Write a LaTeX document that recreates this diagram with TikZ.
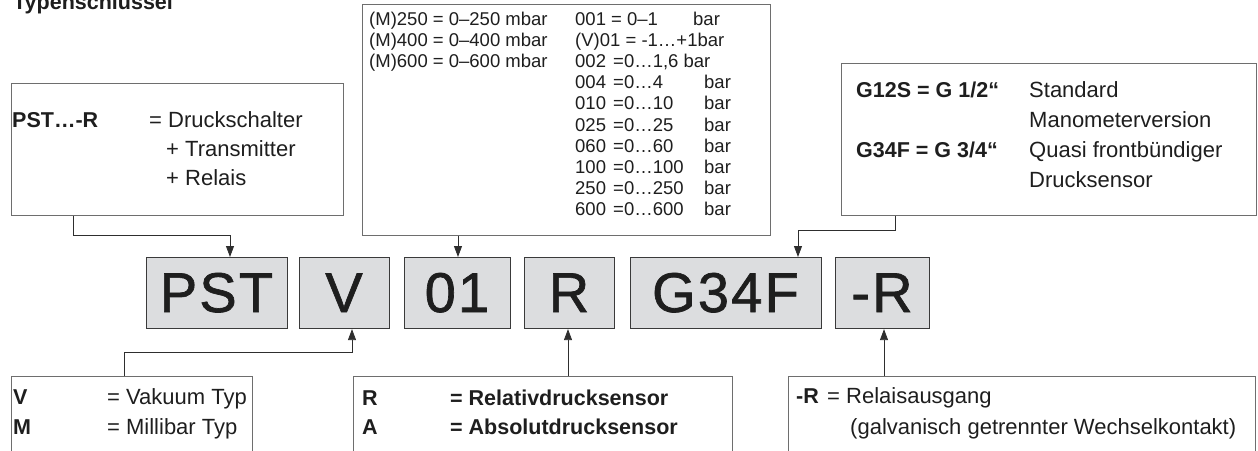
\documentclass[tikz,border=0pt]{standalone}
\usepackage{fontspec}
\setmainfont{Liberation Sans}
\newfontfamily\bigfont[LetterSpace=4,FakeBold=1.2]{Liberation Sans}
\usetikzlibrary{arrows.meta}
\definecolor{linegray}{HTML}{2E2E2E}
\definecolor{boxline}{HTML}{6E6E6E}
\definecolor{keyfill}{HTML}{DCDDDF}
\definecolor{keyline}{HTML}{3A3A3A}
\definecolor{txtcol}{HTML}{1E1E1E}
\begin{document}
\begin{tikzpicture}[x=1pt,y=-1pt,
  txt/.style={anchor=base west,inner sep=0pt,text=txtcol,font=\fontsize{22}{26}\selectfont},
  btxt/.style={anchor=base west,inner sep=0pt,text=txtcol,font=\fontsize{21.5}{26}\selectfont\bfseries},
  stxt/.style={anchor=base west,inner sep=0pt,text=txtcol,font=\fontsize{18.5}{22}\selectfont},
  infobox/.style={draw=boxline,line width=0.9pt,inner sep=0pt,anchor=north west},
  keybox/.style={draw=keyline,fill=keyfill,line width=1.1pt,inner sep=0pt,anchor=north west,minimum height=71pt},
  keytxt/.style={anchor=base,inner sep=0pt,text=txtcol,font=\bigfont\fontsize{56}{60}\selectfont},
  conn/.style={draw=linegray,line width=0.8pt},
  arr/.style={conn,-{Triangle[length=11pt,width=8pt]}}]
\useasboundingbox (0,0) rectangle (1258,450);
\clip (0,0) rectangle (1258,450);

% title
\node[btxt] (title) at (13,9) {Typenschlüssel};

% info boxes (top)
\node[infobox,minimum width=332pt,minimum height=132pt] (b1) at (11,83) {};
\node[infobox,minimum width=408pt,minimum height=231pt] (b2) at (362,4) {};
\node[infobox,minimum width=415pt,minimum height=152pt] (b3) at (841,63) {};

% key boxes
\node[keybox,minimum width=141pt] (kpst) at (146,257) {};
\node[keybox,minimum width=90pt]  (kv)   at (299,257) {};
\node[keybox,minimum width=106pt] (k01)  at (404,257) {};
\node[keybox,minimum width=90pt]  (kr)   at (524,257) {};
\node[keybox,minimum width=191pt] (kg)   at (630,257) {};
\node[keybox,minimum width=94pt]  (krr)  at (835,257) {};
\node[keytxt] (tpst) at (216.5,312) {PST};
\node[keytxt] (tv)   at (344,312) {V};
\node[keytxt] (t01)  at (457,312) {01};
\node[keytxt] (tr)   at (569,312) {R};
\node[keytxt] (tg)   at (725.5,312) {G34F};
\node[keytxt] (trr)  at (882,312) {-R};

% info boxes (bottom, cut by the page edge)
\node[infobox,minimum width=241pt,minimum height=90pt] (b4) at (11,376) {};
\node[infobox,minimum width=379pt,minimum height=90pt] (b5) at (353,376) {};
\node[infobox,minimum width=467pt,minimum height=90pt] (b6) at (788,376) {};

% box 1 text
\node[btxt] (p1) at (12,127) {PST…-R};
\node[txt]  (p2) at (149,127) {= Druckschalter};
\node[txt]  (p3) at (166,156) {+ Transmitter};
\node[txt]  (p4) at (166,185) {+ Relais};

% box 2 text
\node[stxt] (m1) at (369,25) {(M)250 = 0–250 mbar};
\node[stxt] (m2) at (369,46.2) {(M)400 = 0–400 mbar};
\node[stxt] (m3) at (369,67.4) {(M)600 = 0–600 mbar};
\foreach \i/\c in {0/001,2/002,3/004,4/010,5/025,6/060,7/100,8/250,9/600}{
  \node[stxt] (c\i) at (575,25+21.2*\i) {\c};
}
\node[stxt] (v0) at (611,25) {= 0–1};
\node[stxt] (r0) at (693,25) {bar};
\node[stxt] (c1) at (575,46.2) {(V)01 = -1…+1bar};
\node[stxt] (v2) at (613,67.4) {=0…1,6 bar};
\node[stxt] (v3) at (613,88.6) {=0…4};
\node[stxt] (r3) at (704,88.6) {bar};
\foreach \i/\v in {4/10,5/25,6/60,7/100,8/250,9/600}{
  \node[stxt] (v\i) at (613,25+21.2*\i) {=0…\v};
  \node[stxt] (r\i) at (704,25+21.2*\i) {bar};
}

% box 3 text
\node[btxt] (g1) at (856,97) {G12S = G 1/2“};
\node[txt]  (g2) at (1029,97) {Standard};
\node[txt]  (g3) at (1029,127) {Manometerversion};
\node[btxt] (g4) at (856,157) {G34F = G 3/4“};
\node[txt]  (g5) at (1029,157) {Quasi frontbündiger};
\node[txt]  (g6) at (1029,187) {Drucksensor};

% bottom box texts
\node[btxt] (x1) at (13,404) {V};
\node[txt]  (x2) at (107,404) {= Vakuum Typ};
\node[btxt] (x3) at (13,434) {M};
\node[txt]  (x4) at (107,434) {= Millibar Typ};

\node[btxt] (y1) at (362,405) {R};
\node[btxt] (y2) at (450,405) {= Relativdrucksensor};
\node[btxt] (y3) at (362,434) {A};
\node[btxt] (y4) at (450,434) {= Absolutdrucksensor};

\node[btxt] (z1) at (796,403) {-R};
\node[txt]  (z2) at (827,403) {= Relaisausgang};
\node[txt]  (z3) at (850,434) {(galvanisch getrennter Wechselkontakt)};

% connectors
\coordinate (a0) at (73,235);
\coordinate (a1) at (230,235);
\draw[arr] (a0 |- b1.south) -- (a0) -- (a1) -- (a1 |- kpst.north);

\coordinate (a2) at (458,235);
\draw[arr] (a2 |- b2.south) -- (a2 |- k01.north);

\coordinate (a3) at (895,230);
\coordinate (a4) at (798,230);
\draw[arr] (a3 |- b3.south) -- (a3) -- (a4) -- (a4 |- kg.north);

\coordinate (a5) at (124,352);
\coordinate (a6) at (352,352);
\draw[arr] (a5 |- b4.north) -- (a5) -- (a6) -- (a6 |- kv.south);

\coordinate (a7) at (568,352);
\draw[arr] (a7 |- b5.north) -- (a7 |- kr.south);

\coordinate (a8) at (884,352);
\draw[arr] (a8 |- b6.north) -- (a8 |- krr.south);
\end{tikzpicture}
\end{document}
